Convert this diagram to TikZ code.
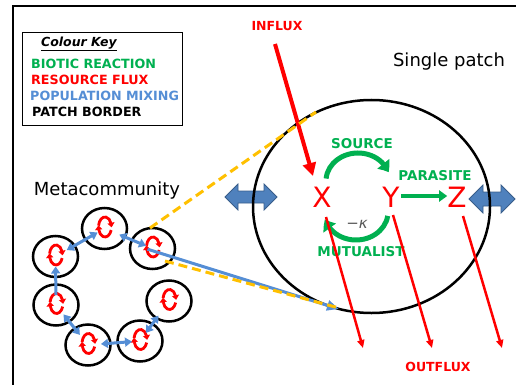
\documentclass[tikz,border=0pt]{standalone}
\usepackage{fontspec}
\setmainfont{DejaVu Sans}
\usetikzlibrary{arrows.meta,shapes.geometric,bending}
\definecolor{bioticgreen}{RGB}{0,176,80}
\definecolor{fluxred}{RGB}{255,0,0}
\definecolor{mixblue}{RGB}{85,142,213}
\definecolor{bigblue}{RGB}{79,129,189}
\definecolor{bigblueedge}{RGB}{56,93,138}
\definecolor{zoomyellow}{RGB}{255,192,0}
\definecolor{kappagray}{RGB}{89,89,89}
\tikzset{
  keytext/.style={anchor=west, inner sep=0pt, font=\bfseries\fontsize{12.7}{15}\selectfont},
  bigtitle/.style={inner sep=0pt, font=\fontsize{18}{21}\selectfont},
  reaction/.style={inner sep=0pt, text=bioticgreen, font=\bfseries\fontsize{13.5}{16}\selectfont},
  fluxlabel/.style={inner sep=0pt, text=fluxred, font=\bfseries\fontsize{12.5}{14}\selectfont},
  species/.style={inner sep=0pt, text=fluxred, font=\fontsize{28}{32}\selectfont},
  patch/.style={draw, ellipse, line width=2.5pt, minimum width=45pt, minimum height=41pt, inner sep=0pt},
  bigpatch/.style={draw, ellipse, line width=2.5pt, minimum width=237pt, minimum height=213pt, inner sep=0pt},
  mixboth/.style={mixblue, line width=3pt, >={Triangle[width=9pt,length=7pt]}, <->},
  mixone/.style={mixblue, line width=3pt, >={Triangle[width=9pt,length=7pt]}, ->},
  bioarrow/.style={bioticgreen, line width=5pt, >={Triangle[bend,width=15pt,length=10pt]}, ->},
  influxarrow/.style={fluxred, line width=4pt, >={Triangle[width=13pt,length=13pt]}, ->},
  outfluxarrow/.style={fluxred, line width=2.5pt, >={Triangle[width=7pt,length=8pt]}, ->},
  zoomline/.style={zoomyellow, line width=3pt, dash pattern=on 9pt off 5pt},
  loopline/.style={fluxred, line width=2.8pt, >={Triangle[bend,width=7pt,length=4.5pt]}, ->},
  mixarrow/.style={fill=bigblue, draw=bigblueedge, line width=0.8pt, line join=miter},
}
\begin{document}
\begin{tikzpicture}[x=1pt,y=-1pt]
\useasboundingbox (0,0) rectangle (516,385);

% frame
\draw[line width=2pt] (516,6) -- (13,6) -- (13,385);

% colour key
\node[draw, line width=1pt, minimum width=160pt, minimum height=92pt, inner sep=0pt] (keybox) at (102,79) {};
\node[inner sep=0pt, font=\bfseries\itshape\fontsize{12.5}{14}\selectfont] (keytitle) at (79,44) {\underline{Colour Key}};
\node[keytext, text=bioticgreen] (k1) at (31,64) {BIOTIC REACTION};
\node[keytext, text=fluxred] (k2) at (31,80) {RESOURCE FLUX};
\node[keytext, text=mixblue] (k3) at (30,96) {POPULATION MIXING};
\node[keytext, text=black] (k4) at (32,112) {PATCH BORDER};

% titles
\node[bigtitle] (single) at (449,62) {Single patch};
\node[bigtitle] (meta) at (107,191) {Metacommunity};

% blue mixing arrows of the single patch
\draw[mixarrow] (225,197) -- (238,184) -- (238,191) -- (264,191) -- (264,184) -- (277,197)
  -- (264,210) -- (264,203) -- (238,203) -- (238,210) -- cycle;
\draw[mixarrow] (469,199) -- (483,185) -- (483,192) -- (501,192) -- (501,185) -- (515,199)
  -- (501,213) -- (501,206) -- (483,206) -- (483,213) -- cycle;

% the single patch
\node[bigpatch] (big) at (371.5,206.5) {};

% species
\node[species] (X) at (322,197) {X};
\node[species] (Y) at (391,197) {Y};
\node[species] (Z) at (457,197) {Z};

% biotic reactions
\draw[bioarrow] (358,181) ++(175:32pt and 28pt) arc[start angle=175, end angle=18, x radius=32pt, y radius=28pt];
\draw[bioarrow] (356,212) ++(-8:32pt and 28pt) arc[start angle=-8, end angle=-165, x radius=32pt, y radius=28pt];
\draw[bioticgreen, line width=4pt, -{Triangle[width=11pt,length=8pt]}] (Y.east) ++(1,-1) coordinate (yz) -- (Z.west |- yz);
\node[reaction] (source) at (362,144) {SOURCE};
\node[reaction] (parasite) at (435,176) {PARASITE};
\node[reaction] (mutualist) at (361,252) {MUTUALIST};
\node[inner sep=0pt, text=kappagray, font=\fontsize{15}{17}\selectfont] (kappa) at (357,224) {−\textit{κ}};

% resource flux
\node[fluxlabel] (influx) at (277,26) {INFLUX};
\node[fluxlabel] (outflux) at (438,367) {OUTFLUX};
\coordinate (inA) at (275,44);
\coordinate (inB) at (313,176);
\draw[influxarrow] (inA) -- (inB);
\coordinate (o1a) at (326,217); \coordinate (o1b) at (363,348);
\coordinate (o2a) at (393,215); \coordinate (o2b) at (432,348);
\coordinate (o3a) at (463,216); \coordinate (o3b) at (502,348);
\draw[outfluxarrow] (o1a) -- (o1b);
\draw[outfluxarrow] (o2a) -- (o2b);
\draw[outfluxarrow] (o3a) -- (o3b);

% metacommunity patches
\node[patch] (A) at (104.5,228.5) {};
\node[patch] (B) at (55.5,256.5) {};
\node[patch] (C) at (152.5,248.5) {};
\node[patch] (D) at (56,305) {};
\node[patch] (E) at (169,301) {};
\node[patch] (F) at (88,345) {};
\node[patch] (G) at (140,341) {};

% internal cycling in each patch: over the top, then back underneath
\foreach \p in {A,B,C,D,E,F,G}{
  \begin{scope}[shift={(\p.center)}]
    \draw[loopline] (0.5,-1.5) ++(172:6.5pt and 10pt) arc[start angle=172, end angle=-2, x radius=6.5pt, y radius=10pt];
    \draw[loopline] (0.5,-1.5) ++(-18:6.5pt and 10pt) arc[start angle=-18, end angle=-190, x radius=6.5pt, y radius=10pt];
  \end{scope}
}

% population mixing between patches
\draw[mixboth, shorten <=13pt, shorten >=8pt] (B.center) -- (A.center);
\draw[mixboth, shorten <=16pt, shorten >=7pt] (A.center) -- (C.center);
\draw[mixone, shorten <=10pt, shorten >=10pt] (D.center) -- (B.center);
\draw[mixboth, shorten <=13pt, shorten >=12pt] (F.center) -- (D.center);
\draw[mixboth, shorten <=13pt, shorten >=8pt] (F.center) -- (G.center);
\draw[mixboth, shorten <=10pt, shorten >=18pt] (G.center) -- (E.center);

% zoom from one patch to the single patch
\coordinate (bigtop) at (316,112);
\coordinate (bigbot) at (339,309);
\coordinate (ctop) at (150,228);
\coordinate (cbot) at (165,261);
\draw[mixblue, line width=3pt, -{Triangle[width=10pt,length=12pt]}, shorten <=-1pt] ([xshift=-4pt,yshift=-1pt]C.center) -- (bigbot);
\draw[zoomline] (ctop) -- (bigtop);
\draw[zoomline] (cbot) -- ([yshift=1pt]bigbot);
\end{tikzpicture}
\end{document}
